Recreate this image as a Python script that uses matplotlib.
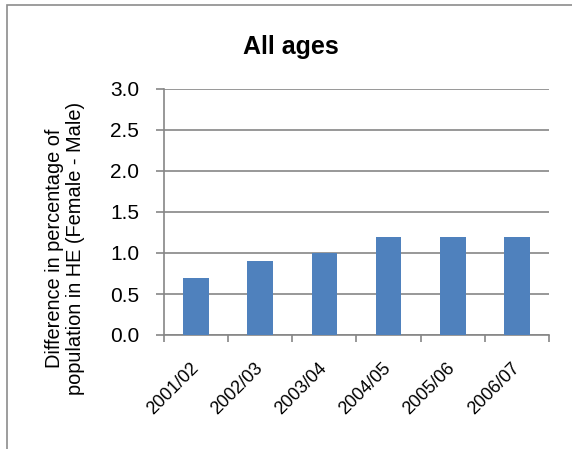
import matplotlib.pyplot as plt
from matplotlib.patches import Rectangle
from matplotlib.transforms import ScaledTranslation

# Chart data
years = ["2001/02", "2002/03", "2003/04", "2004/05", "2005/06", "2006/07"]
difference = [0.7, 0.9, 1.0, 1.2, 1.2, 1.2]
y_ticks = [0.0, 0.5, 1.0, 1.5, 2.0, 2.5, 3.0]

BAR_COLOR = "#4F81BD"
GRID_COLOR = "#868686"

plt.rcParams["font.family"] = ["Liberation Sans", "DejaVu Sans"]

fig = plt.figure(figsize=(5.72, 4.49), dpi=100)
W, H = 572, 449
ax = fig.add_axes([164 / W, 1 - 335 / H, (549 - 164) / W, (335 - 89) / H])

x = range(len(years))
ax.bar(x, difference, width=0.4, color=BAR_COLOR, zorder=3)

ax.set_xlim(-0.5, len(years) - 0.5)
ax.set_ylim(0, 3.0)
ax.set_yticks(y_ticks)
ax.set_yticklabels([f"{v:.1f}" for v in y_ticks], fontsize=15)
ax.yaxis.grid(True, color=GRID_COLOR, linewidth=1.2, zorder=0)

# category boundary ticks on the x axis, labels centred on the bars
ax.set_xticks([i - 0.5 for i in range(len(years) + 1)], minor=False)
ax.set_xticklabels([])
ax.set_xticks(list(x), minor=True)
ax.set_xticklabels(years, minor=True, rotation=45, ha="right", va="center",
                   rotation_mode="anchor", fontsize=13)
shift = ScaledTranslation(-3 / 100, 0, fig.dpi_scale_trans)
for lbl in ax.get_xticklabels(minor=True):
    lbl.set_transform(lbl.get_transform() + shift)
ax.tick_params(axis="x", which="minor", length=0, pad=22)
ax.tick_params(axis="x", which="major", length=5, color=GRID_COLOR, width=1.2)
ax.tick_params(axis="y", length=6, color=GRID_COLOR, width=1.2, pad=12)

for side in ["top", "right"]:
    ax.spines[side].set_visible(False)
for side in ["left", "bottom"]:
    ax.spines[side].set_color(GRID_COLOR)
    ax.spines[side].set_linewidth(1.2)

fig.text(65 / W, 1 - 248 / H,
         "Difference in percentage of\npopulation in HE (Female - Male)",
         rotation=90, ha="center", va="center", multialignment="center",
         linespacing=1.15, fontsize=14.4)

fig.text(291 / W, 1 - 47 / H, "All ages", ha="center", va="center",
         fontsize=18, fontweight="bold")

# chart area border
fig.patches.append(Rectangle((7 / W, -0.1), 1.1, 1 - 5 / H + 0.1,
                             transform=fig.transFigure, fill=False,
                             edgecolor="#8c8c8c", linewidth=1.2))

fig.savefig("out.png", dpi=100)
